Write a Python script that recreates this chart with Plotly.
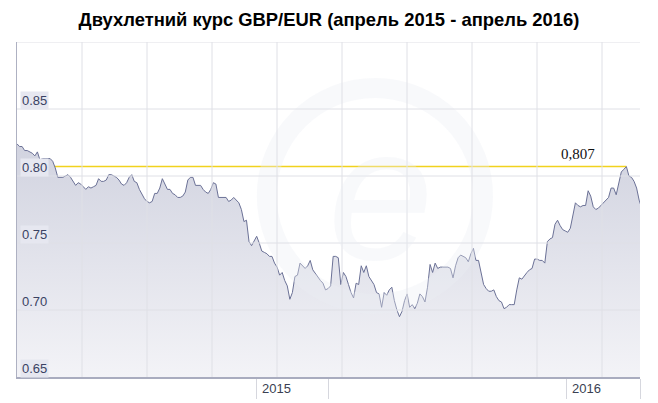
import pandas as pd
import plotly.graph_objects as go

# ---- data ----
start_date = "2014-03-25"
range_end = "2016-03-27"
step = "3D"
gbp_eur = [
    0.824, 0.822, 0.822, 0.819, 0.819, 0.818, 0.817, 0.815, 0.818, 0.812,
    0.813, 0.813, 0.813, 0.813, 0.811, 0.806, 0.799, 0.799, 0.799, 0.800,
    0.801, 0.799, 0.796, 0.793, 0.795, 0.794, 0.792, 0.790, 0.792, 0.791,
    0.792, 0.793, 0.798, 0.796, 0.796, 0.797, 0.801, 0.801, 0.800, 0.799,
    0.797, 0.794, 0.793, 0.795, 0.799, 0.801, 0.796, 0.795, 0.790, 0.786,
    0.783, 0.781, 0.780, 0.781, 0.787, 0.787, 0.791, 0.798, 0.794, 0.790,
    0.790, 0.787, 0.786, 0.784, 0.784, 0.785, 0.788, 0.797, 0.799, 0.799,
    0.793, 0.793, 0.793, 0.790, 0.788, 0.787, 0.790, 0.795, 0.794, 0.784,
    0.784, 0.784, 0.784, 0.781, 0.782, 0.784, 0.782, 0.780, 0.775, 0.766,
    0.767, 0.751, 0.748, 0.751, 0.755, 0.750, 0.744, 0.743, 0.742, 0.740,
    0.740, 0.735, 0.732, 0.726, 0.728, 0.722, 0.718, 0.708, 0.713, 0.725,
    0.726, 0.735, 0.733, 0.731, 0.733, 0.737, 0.730, 0.727, 0.724, 0.722,
    0.720, 0.715, 0.716, 0.718, 0.740, 0.740, 0.739, 0.719, 0.728, 0.725,
    0.719, 0.713, 0.709, 0.720, 0.719, 0.733, 0.728, 0.733, 0.725, 0.722,
    0.719, 0.713, 0.712, 0.702, 0.713, 0.711, 0.715, 0.717, 0.707, 0.700,
    0.695, 0.699, 0.707, 0.712, 0.702, 0.704, 0.701, 0.705, 0.712, 0.710,
    0.706, 0.717, 0.734, 0.728, 0.735, 0.731, 0.732, 0.732, 0.732, 0.732,
    0.731, 0.724, 0.733, 0.739, 0.741, 0.740, 0.739, 0.736, 0.742, 0.746,
    0.737, 0.737, 0.728, 0.719, 0.716, 0.714, 0.714, 0.715, 0.710, 0.707,
    0.706, 0.701, 0.702, 0.704, 0.704, 0.704, 0.715, 0.724, 0.723, 0.726,
    0.728, 0.730, 0.731, 0.738, 0.738, 0.737, 0.737, 0.735, 0.751, 0.753,
    0.754, 0.764, 0.767, 0.763, 0.760, 0.759, 0.758, 0.761, 0.771, 0.780,
    0.778, 0.777, 0.778, 0.778, 0.789, 0.785, 0.777, 0.775, 0.776, 0.778,
    0.780, 0.782, 0.784, 0.791, 0.791, 0.786, 0.794, 0.803, 0.805, 0.807,
    0.800, 0.799, 0.796, 0.791, 0.782, 0.776,
]
ref_level = 0.807
ref_label = "0,807"
y_ticks = [0.65, 0.70, 0.75, 0.80, 0.85]
y_grid = [0.70, 0.75, 0.80, 0.85, 0.90]
y_range = [0.65, 0.90]
year_ticks = ["2015-01-01", "2016-01-01"]
year_labels = ["2015", "2016"]
cell_ends = ["2015-03-27", "2016-03-27"]
title = "Двухлетний курс GBP/EUR (апрель 2015 - апрель 2016)"

dates = pd.date_range(start_date, periods=len(gbp_eur), freq=step)
peak_idx = max(i for i, v in enumerate(gbp_eur) if v >= ref_level)

fig = go.Figure()

# reference level line (drawn first, hidden under the area where data is above it)
fig.add_trace(go.Scatter(
    x=[dates[0], dates[peak_idx]], y=[ref_level, ref_level],
    mode="lines", line=dict(color="#f1d21e", width=1.5),
    hoverinfo="skip", showlegend=False,
))

fig.add_trace(go.Scatter(
    x=dates, y=gbp_eur, mode="lines",
    line=dict(color="#6b7196", width=1),
    fill="tozeroy",
    fillgradient=dict(type="vertical", start=0.65, stop=0.83,
                      colorscale=[[0, "#f3f3f7"], [1, "#d0d2df"]]),
    hoverinfo="skip", showlegend=False,
))

W_PX = 623  # plot width in px (for evenly spaced vertical grid)
shapes = []
# watermark ring
shapes.append(dict(type="circle", xref="paper", yref="paper",
                   x0=0.401, x1=0.748, y0=0.218, y1=0.863,
                   line=dict(color="rgba(236,237,243,0.35)", width=20),
                   layer="above"))
# vertical grid (evenly spaced every 65 px)
for k in range(1, 10):
    xp = k * 65 / W_PX
    shapes.append(dict(type="line", xref="paper", yref="paper",
                       x0=xp, x1=xp, y0=0, y1=1,
                       line=dict(color="#dfe0e6", width=1), layer="above"))
for gy in y_grid:
    shapes.append(dict(type="line", xref="paper", yref="y",
                       x0=0, x1=1, y0=gy, y1=gy,
                       line=dict(color="#dfe0e6", width=1), layer="above"))

annotations = []
for t in y_ticks:
    annotations.append(dict(
        x=0, xref="paper", y=t, yref="y", xanchor="left", yanchor="bottom",
        xshift=3, yshift=-1, text=f"{t:.2f}", showarrow=False,
        font=dict(family="Liberation Sans, Arial", size=13, color="#3a4263"),
        bgcolor="#e6e7f0", borderpad=1,
    ))
for d, lab in zip(year_ticks, year_labels):
    annotations.append(dict(
        x=d, xref="x", y=0, yref="paper", xanchor="left", yanchor="top",
        xshift=3, yshift=-2, text=lab, showarrow=False,
        font=dict(family="Liberation Sans, Arial", size=13, color="#3a3f52"),
    ))
annotations.append(dict(
    x=dates[peak_idx], xref="x", y=ref_level, yref="y",
    xanchor="right", yanchor="bottom", xshift=-29, yshift=3,
    text=ref_label, showarrow=False,
    font=dict(family="Liberation Serif, Times New Roman", size=15, color="#111111"),
))
# watermark letter
annotations.append(dict(
    x=0.585, xref="paper", y=0.55, yref="paper", text="<i>e</i>",
    showarrow=False, font=dict(family="Liberation Sans", size=190,
                               color="rgba(236,237,243,0.35)"),
))

fig.update_layout(
    width=658, height=403,
    margin=dict(l=17, r=18, t=42, b=26, autoexpand=False),
    paper_bgcolor="white", plot_bgcolor="white",
    title=dict(text=f"<b>{title}</b>", x=0.5, xanchor="center",
               y=1 - 20 / 403, yanchor="middle",
               font=dict(family="Liberation Sans, Arial", size=18.4, color="#000000")),
    xaxis=dict(type="date", range=[start_date, range_end], automargin=False,
               showgrid=False, zeroline=False,
               tickvals=year_ticks + cell_ends, ticktext=["", "", "", ""],
               ticks="outside", ticklen=20, tickcolor="#d6d7de", tickwidth=1,
               showline=True, linecolor="#a9acbf", linewidth=2),
    yaxis=dict(range=y_range, automargin=False, showgrid=False, zeroline=False,
               showticklabels=False, ticks="",
               showline=True, linecolor="#aeb1c2", linewidth=1),
    shapes=shapes,
    annotations=annotations,
    showlegend=False,
)

fig.write_html("out.html", config={"displayModeBar": False},
               post_script="document.body.style.margin='0';document.body.style.padding='0';")
